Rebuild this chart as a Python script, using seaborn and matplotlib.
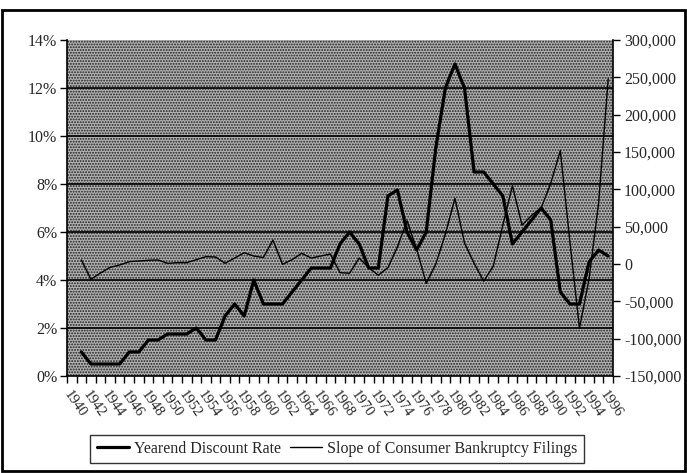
import numpy as np
import pandas as pd
import seaborn as sns
import matplotlib
matplotlib.use("Agg")
import matplotlib.pyplot as plt
from matplotlib.lines import Line2D
from matplotlib.patches import Rectangle
from matplotlib.ticker import FuncFormatter, FixedLocator

# data (1940 has no value)
years = list(range(1940, 1997))
discount_rate = [
    np.nan, 1.0, 0.5, 0.5, 0.5, 0.5, 1.0, 1.0, 1.5, 1.5,
    1.75, 1.75, 1.75, 2.0, 1.5, 1.5, 2.5, 3.0, 2.5, 4.0,
    3.0, 3.0, 3.0, 3.5, 4.0, 4.5, 4.5, 4.5, 5.5, 6.0,
    5.5, 4.5, 4.5, 7.5, 7.75, 6.0, 5.25, 6.0, 9.5, 12.0,
    13.0, 12.0, 8.5, 8.5, 8.0, 7.5, 5.5, 6.0, 6.5, 7.0,
    6.5, 3.5, 3.0, 3.0, 4.75, 5.25, 5.0,
]
bankruptcy_slope = [
    np.nan, 5400, -20500, -12000, -4500, -1300, 3100, 4000, 5000, 5400,
    900, 1800, 1800, 5800, 9800, 9400, 1000, 8000, 15000, 10700,
    8700, 32000, -400, 5800, 14300, 8000, 10700, 13400, -11600, -12400,
    8000, -5000, -15000, -5000, 23000, 58000, 20000, -26000, 0, 40000,
    88000, 28000, 1000, -23000, -3000, 52000, 105000, 52000, 65000, 75000,
    108000, 152000, 30000, -86000, -20000, 82000, 248000,
]
left_ticks = [0, 2, 4, 6, 8, 10, 12, 14]
right_ticks = [-150000, -100000, -50000, 0, 50000, 100000, 150000, 200000, 250000, 300000]
year_labels = list(range(1940, 1997, 2))

df = pd.DataFrame({"year": years, "rate": discount_rate, "slope": bankruptcy_slope})

sns.set_style("white")
plt.rcParams["font.family"] = ["Liberation Serif", "DejaVu Serif"]
plt.rcParams["hatch.linewidth"] = 0.9

W, H = 687, 473
fig = plt.figure(figsize=(W / 100, H / 100), dpi=100)
ax = fig.add_axes([67 / W, 97 / H, 546 / W, 336 / H])
ax2 = ax.twinx()

# dotted gray plot area
ax.set_facecolor("#b0b0b0")
ax.add_patch(Rectangle((0, 0), 1, 1, transform=ax.transAxes, facecolor="none",
                       edgecolor="#202020", hatch="......", lw=0, zorder=0))
for t in left_ticks[1:-1]:
    ax.axhline(t, color="black", lw=1.2, zorder=1)

sns.lineplot(data=df, x="year", y="rate", ax=ax, color="black", lw=2.3, zorder=3)
sns.lineplot(data=df, x="year", y="slope", ax=ax2, color="black", lw=1.0, zorder=3)

ax.set_xlim(1939.5, 1996.5)
ax.set_ylim(0, 14)
ax2.set_ylim(-150000, 300000)
ax.set_xlabel("")
ax.set_ylabel("")
ax2.set_ylabel("")

ax.yaxis.set_major_locator(FixedLocator(left_ticks))
ax.yaxis.set_major_formatter(FuncFormatter(lambda v, p: f"{v:.0f}%"))
ax2.yaxis.set_major_locator(FixedLocator(right_ticks))
ax2.yaxis.set_major_formatter(FuncFormatter(lambda v, p: f"{v:,.0f}"))

ax.set_xticks(year_labels)
ax.set_xticklabels([str(y) for y in year_labels], rotation=-55, ha="left",
                   va="top", rotation_mode="anchor", fontsize=10.5)
ax.xaxis.set_minor_locator(FixedLocator([y - 0.5 for y in years] + [1996.5]))
ax.tick_params(axis="x", which="major", length=0, pad=9)
ax.tick_params(axis="x", which="minor", length=5, width=1, direction="out",
               color="black", bottom=True)
ax.tick_params(axis="y", length=5, width=1, direction="out", color="black",
               left=True, labelsize=11.5, pad=2)
ax2.tick_params(axis="y", length=5, width=1, direction="out", color="black",
                right=True, labelsize=11.5, pad=3)

for a in (ax, ax2):
    for s in a.spines.values():
        s.set_visible(False)
ax.spines["left"].set_visible(True)
ax.spines["bottom"].set_visible(True)
ax2.spines["right"].set_visible(True)
for s in (ax.spines["left"], ax.spines["bottom"], ax2.spines["right"]):
    s.set_color("black")
    s.set_linewidth(1.2)

handles = [Line2D([], [], color="black", lw=2.3), Line2D([], [], color="black", lw=1.0)]
leg = fig.legend(handles, ["Yearend Discount Rate", "Slope of Consumer Bankruptcy Filings"],
                 loc="center", bbox_to_anchor=(337 / W, 24 / H), ncol=2, fontsize=11.5,
                 frameon=True, fancybox=False, handlelength=2.0, handletextpad=0.3,
                 columnspacing=0.6, borderpad=0.4)
leg.get_frame().set_edgecolor("black")
leg.get_frame().set_linewidth(1.0)

# outer chart border
fig.patches.append(Rectangle((2 / W, 2 / H), 683 / W, 461 / H, transform=fig.transFigure,
                             fill=False, edgecolor="black", lw=2))

fig.savefig("out.png", dpi=100)
